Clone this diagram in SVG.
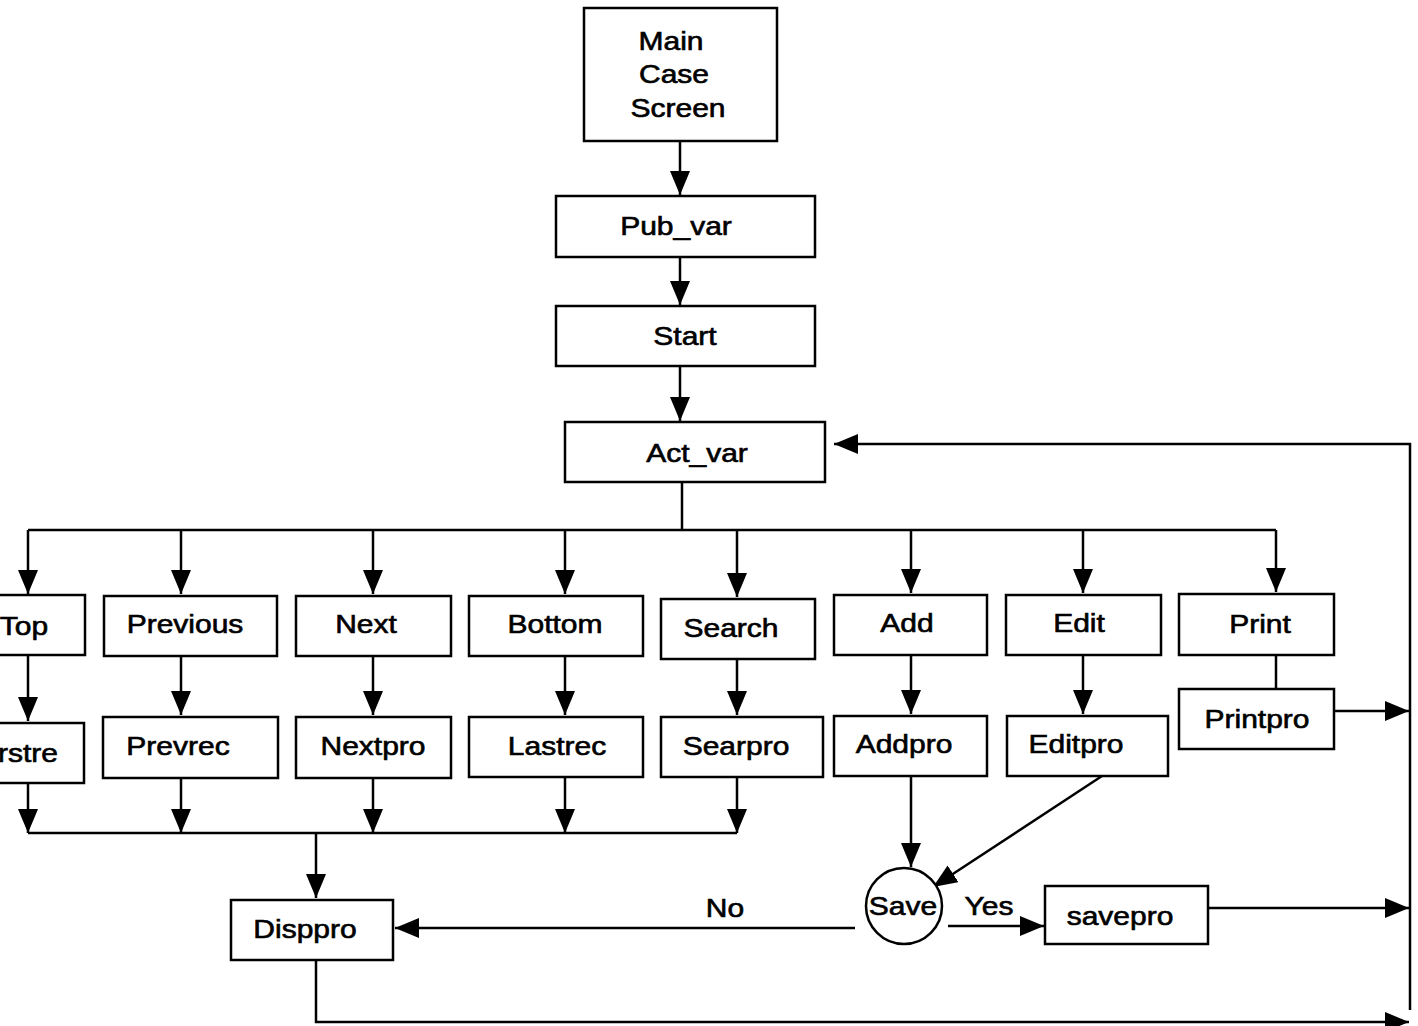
<svg xmlns="http://www.w3.org/2000/svg" width="1418" height="1026" viewBox="0 0 1418 1026">
  <style>
    .box { fill: #fff; stroke: #000; stroke-width: 2.5; }
    .lbl { font-family: "Liberation Sans", Arial, sans-serif; font-size: 25px; fill: #000; stroke: #000; stroke-width: 0.6; text-anchor: middle; }
    .wire { fill: none; stroke: #000; stroke-width: 2.5; }
    .arr { marker-end: url(#head); }
  </style>
  <defs>
    <marker id="head" markerUnits="userSpaceOnUse" markerWidth="26" markerHeight="22" refX="24" refY="10" orient="auto">
      <path d="M0,0 L24,10 L0,20 Z" fill="#000"/>
    </marker>
  </defs>
  <rect width="1418" height="1026" fill="#fff"/>

  <g id="connectors">
    <path class="wire arr" d="M680,141 V195"/>
    <path class="wire arr" d="M680,257 V305"/>
    <path class="wire arr" d="M680,366 V421"/>
    <path class="wire" d="M682,482 V530"/>
    <path class="wire" d="M28,530 H1276"/>
    <!-- drops from the menu bus -->
    <path class="wire arr" d="M28,530 V594"/>
    <path class="wire arr" d="M181,530 V594"/>
    <path class="wire arr" d="M373,530 V594"/>
    <path class="wire arr" d="M565,530 V594"/>
    <path class="wire arr" d="M737,530 V597"/>
    <path class="wire arr" d="M911,530 V593"/>
    <path class="wire arr" d="M1083,530 V593"/>
    <path class="wire arr" d="M1276,530 V592"/>
    <!-- menu item to its procedure -->
    <path class="wire arr" d="M28,655 V721"/>
    <path class="wire arr" d="M181,656 V715"/>
    <path class="wire arr" d="M373,656 V715"/>
    <path class="wire arr" d="M565,656 V715"/>
    <path class="wire arr" d="M737,659 V715"/>
    <path class="wire arr" d="M911,655 V714"/>
    <path class="wire arr" d="M1083,655 V714"/>
    <path class="wire" d="M1276,655 V689"/>
    <!-- navigation procedures join into Disppro -->
    <path class="wire arr" d="M28,783 V833"/>
    <path class="wire arr" d="M181,778 V833"/>
    <path class="wire arr" d="M373,778 V833"/>
    <path class="wire arr" d="M565,777 V833"/>
    <path class="wire arr" d="M737,777 V833"/>
    <path class="wire" d="M28,833 H737"/>
    <path class="wire arr" d="M316,833 V898"/>
    <!-- add / edit into the save decision -->
    <path class="wire arr" d="M911,776 V867"/>
    <path class="wire arr" d="M1102,776 L933,887"/>
    <path class="wire arr" d="M855,928 H395"/>
    <path class="wire arr" d="M948,926 H1044"/>
    <!-- returns to Act_var -->
    <path class="wire arr" d="M1334,711 H1409"/>
    <path class="wire arr" d="M1198,908 H1409"/>
    <path class="wire arr" d="M316,961 V1022 H1409"/>
    <path class="wire arr" d="M1410,1010 V444 H834"/>
    <text class="lbl" transform="translate(725,917) scale(1.2,1)">No</text>
    <text class="lbl" transform="translate(989,915) scale(1.2,1)">Yes</text>
  </g>

  <g id="main">
    <rect class="box" x="584" y="8" width="193" height="133"/>
    <text class="lbl" transform="translate(671,50) scale(1.2,1)">Main</text>
    <text class="lbl" transform="translate(674,83) scale(1.2,1)">Case</text>
    <text class="lbl" transform="translate(678,117) scale(1.2,1)">Screen</text>
  </g>
  <g id="pub_var">
    <rect class="box" x="556" y="196" width="259" height="61"/>
    <text class="lbl" transform="translate(676,235) scale(1.2,1)">Pub_var</text>
  </g>
  <g id="start">
    <rect class="box" x="556" y="306" width="259" height="60"/>
    <text class="lbl" transform="translate(685,345) scale(1.2,1)">Start</text>
  </g>
  <g id="act_var">
    <rect class="box" x="565" y="422" width="260" height="60"/>
    <text class="lbl" transform="translate(697,462) scale(1.2,1)">Act_var</text>
  </g>

  <g id="top">
    <rect class="box" x="-30" y="595" width="115" height="60"/>
    <text class="lbl" transform="translate(24,635) scale(1.2,1)">Top</text>
  </g>
  <g id="previous">
    <rect class="box" x="104" y="596" width="173" height="60"/>
    <text class="lbl" transform="translate(185,633) scale(1.2,1)">Previous</text>
  </g>
  <g id="next">
    <rect class="box" x="296" y="596" width="155" height="60"/>
    <text class="lbl" transform="translate(366,633) scale(1.2,1)">Next</text>
  </g>
  <g id="bottom">
    <rect class="box" x="469" y="596" width="174" height="60"/>
    <text class="lbl" transform="translate(555,633) scale(1.2,1)">Bottom</text>
  </g>
  <g id="search">
    <rect class="box" x="661" y="599" width="154" height="60"/>
    <text class="lbl" transform="translate(731,637) scale(1.2,1)">Search</text>
  </g>
  <g id="add">
    <rect class="box" x="834" y="595" width="153" height="60"/>
    <text class="lbl" transform="translate(907,632) scale(1.2,1)">Add</text>
  </g>
  <g id="edit">
    <rect class="box" x="1006" y="595" width="155" height="60"/>
    <text class="lbl" transform="translate(1079,632) scale(1.2,1)">Edit</text>
  </g>
  <g id="print">
    <rect class="box" x="1179" y="594" width="155" height="61"/>
    <text class="lbl" transform="translate(1260,633) scale(1.2,1)">Print</text>
  </g>

  <g id="firstrec">
    <rect class="box" x="-30" y="723" width="114" height="60"/>
    <text class="lbl" style="text-anchor:start" transform="translate(-2,762) scale(1.2,1)">rstre</text>
  </g>
  <g id="prevrec">
    <rect class="box" x="103" y="717" width="175" height="61"/>
    <text class="lbl" transform="translate(178,755) scale(1.2,1)">Prevrec</text>
  </g>
  <g id="nextpro">
    <rect class="box" x="296" y="717" width="155" height="61"/>
    <text class="lbl" transform="translate(373,755) scale(1.2,1)">Nextpro</text>
  </g>
  <g id="lastrec">
    <rect class="box" x="469" y="717" width="174" height="60"/>
    <text class="lbl" transform="translate(557,755) scale(1.2,1)">Lastrec</text>
  </g>
  <g id="searpro">
    <rect class="box" x="661" y="717" width="162" height="60"/>
    <text class="lbl" transform="translate(736,755) scale(1.2,1)">Searpro</text>
  </g>
  <g id="addpro">
    <rect class="box" x="834" y="716" width="153" height="60"/>
    <text class="lbl" transform="translate(904,753) scale(1.2,1)">Addpro</text>
  </g>
  <g id="editpro">
    <rect class="box" x="1007" y="716" width="161" height="60"/>
    <text class="lbl" transform="translate(1076,753) scale(1.2,1)">Editpro</text>
  </g>
  <g id="printpro">
    <rect class="box" x="1179" y="689" width="155" height="60"/>
    <text class="lbl" transform="translate(1257,728) scale(1.2,1)">Printpro</text>
  </g>

  <g id="disppro">
    <rect class="box" x="231" y="900" width="162" height="60"/>
    <text class="lbl" transform="translate(305,938) scale(1.2,1)">Disppro</text>
  </g>
  <g id="save">
    <circle class="box" cx="904" cy="906" r="38"/>
    <text class="lbl" transform="translate(903,915) scale(1.2,1)">Save</text>
  </g>
  <g id="savepro">
    <rect class="box" x="1045" y="886" width="163" height="58"/>
    <text class="lbl" transform="translate(1120,925) scale(1.2,1)">savepro</text>
  </g>
</svg>
